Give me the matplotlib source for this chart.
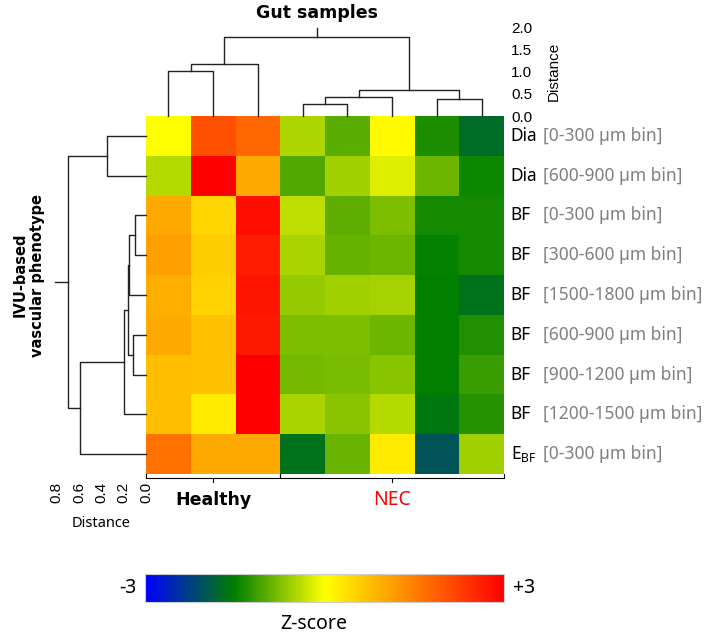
import numpy as np
import matplotlib.pyplot as plt
from matplotlib.colors import LinearSegmentedColormap
from matplotlib.cm import ScalarMappable
from matplotlib.colors import Normalize

plt.rcParams['font.family'] = ['Noto Sans', 'DejaVu Sans']

# ---- data ----
row_kind = ["Dia", "Dia", "BF", "BF", "BF", "BF", "BF", "BF", "E$_{\\mathregular{BF}}$"]
row_bin = ["[0-300 \u00b5m bin]", "[600-900 \u00b5m bin]", "[0-300 \u00b5m bin]", "[300-600 \u00b5m bin]",
           "[1500-1800 \u00b5m bin]", "[600-900 \u00b5m bin]", "[900-1200 \u00b5m bin]",
           "[1200-1500 \u00b5m bin]", "[0-300 \u00b5m bin]"]
groups = ["Healthy", "NEC"]
group_size = [3, 5]
group_color = ["black", "red"]

zscore = np.array([
    [0.00, 2.06, 1.80, -0.47, -0.97, 0.05, -1.32, -1.72],
    [-0.44, 3.00, 1.00, -1.03, -0.56, -0.20, -0.85, -1.41],
    [1.00, 0.47, 2.82, -0.38, -0.94, -0.76, -1.38, -1.36],
    [1.12, 0.59, 2.65, -0.50, -0.91, -0.85, -1.47, -1.36],
    [0.94, 0.53, 2.76, -0.62, -0.56, -0.53, -1.50, -1.65],
    [1.00, 0.71, 2.70, -0.76, -0.76, -0.85, -1.50, -1.30],
    [0.76, 0.71, 3.00, -0.82, -0.79, -0.68, -1.50, -1.15],
    [0.76, 0.24, 3.00, -0.50, -0.68, -0.44, -1.58, -1.27],
    [1.65, 1.00, 1.00, -1.65, -0.88, 0.24, -2.00, -0.56],
])

# merges: (node a, node b, height); leaves first, new nodes numbered after
col_merges = [(0, 1, 1.02), (8, 2, 1.17), (3, 4, 0.28), (10, 5, 0.44),
              (6, 7, 0.38), (11, 12, 0.59), (9, 13, 1.79)]
col_root_top = 2.0
row_merges = [(0, 1, 0.35), (2, 3, 0.10), (10, 4, 0.155), (5, 6, 0.12),
              (11, 12, 0.16), (13, 7, 0.195), (14, 8, 0.59), (9, 15, 0.70)]
row_root_top = 0.82

W, H = 709, 637
def box(x0, y0, x1, y1):
    return [x0 / W, 1 - y1 / H, (x1 - x0) / W, (y1 - y0) / H]

cmap = LinearSegmentedColormap.from_list(
    "zs", [(0, "#0000ff"), (0.25, "#008000"), (0.5, "#ffff00"), (1, "#ff0000")])

fig = plt.figure(figsize=(7.09, 6.37), dpi=100)

# ---- heatmap ----
nr, nc = zscore.shape
ax = fig.add_axes(box(146, 116, 504, 474))
ax.pcolormesh(zscore, cmap=cmap, vmin=-3, vmax=3)
ax.set_xlim(0, nc)
ax.set_ylim(nr, 0)
ax.axis("off")

tr = ax.get_yaxis_transform()
for i in range(nr):
    ax.text(1.019, i + 0.5, row_kind[i], transform=tr, fontsize=12.5, va="center", ha="left")
    ax.text(1.108, i + 0.5, row_bin[i], transform=tr, fontsize=12.5, va="center", ha="left",
            color="#808080")

# group brackets under the heatmap
px = nr / 358.0
start = 0
for g, n, c in zip(groups, group_size, group_color):
    a, b = start, start + n
    ax.plot([a, a, b, b], [nr, nr + 3.5 * px, nr + 3.5 * px, nr], color="black", lw=0.8, clip_on=False)
    m = (a + b) / 2
    ax.plot([m, m], [nr + 3.5 * px, nr + 8 * px], color="black", lw=0.8, clip_on=False)
    if g == "Healthy":
        ax.text(m, nr + 26 * px, g, ha="center", va="center", fontsize=12.5, color=c,
                family="DejaVu Sans", fontweight="bold")
    else:
        ax.text(m, nr + 26 * px, g, ha="center", va="center", fontsize=14, color=c)
    start = b


def dendro(axd, merges, n, top, horizontal):
    pos = {i: i + 0.5 for i in range(n)}
    hgt = {i: 0.0 for i in range(n)}
    k = n
    for a, b, h in merges:
        xs = [pos[a], pos[a], pos[b], pos[b]]
        ys = [hgt[a], h, h, hgt[b]]
        if horizontal:
            axd.plot(ys, xs, color="#222222", lw=1.0, clip_on=False)
        else:
            axd.plot(xs, ys, color="#222222", lw=1.0, clip_on=False)
        pos[k] = (pos[a] + pos[b]) / 2
        hgt[k] = h
        k += 1
    r = k - 1
    if horizontal:
        axd.plot([hgt[r], top], [pos[r], pos[r]], color="#222222", lw=1.0, clip_on=False)
    else:
        axd.plot([pos[r], pos[r]], [hgt[r], top], color="#222222", lw=1.0, clip_on=False)


# ---- column dendrogram ----
axc = fig.add_axes(box(146, 27.7, 504, 116))
dendro(axc, col_merges, nc, col_root_top, False)
axc.set_xlim(0, nc)
axc.set_ylim(0, 2.0)
for s in axc.spines.values():
    s.set_visible(False)
axc.set_xticks([])
axc.yaxis.tick_right()
axc.set_yticks([0, 0.5, 1.0, 1.5, 2.0])
axc.set_yticklabels(["0.0", "0.5", "1.0", "1.5", "2.0"], family="Liberation Sans", fontsize=11)
axc.tick_params(axis="y", length=0, pad=5)
axc.yaxis.set_label_position("right")
axc.set_ylabel("Distance", family="Liberation Sans", fontsize=11)
axc.yaxis.set_label_coords(1.12, 0.5)
fig.text(317 / W, 1 - 13 / H, "Gut samples", ha="center", va="center", fontsize=12.5,
         family="DejaVu Sans", fontweight="bold")

# ---- row dendrogram ----
axr = fig.add_axes(box(56.8, 116, 146, 474))
dendro(axr, row_merges, nr, row_root_top, True)
axr.set_xlim(0.8, 0)
axr.set_ylim(nr, 0)
for s in axr.spines.values():
    s.set_visible(False)
axr.set_yticks([])
axr.set_xticks([0.8, 0.6, 0.4, 0.2, 0.0])
axr.set_xticklabels(["0.8", "0.6", "0.4", "0.2", "0.0"], rotation=90, family="Liberation Sans",
                    fontsize=11)
axr.tick_params(axis="x", length=0, pad=6)
axr.set_xlabel("Distance", fontsize=10.5, labelpad=9)
fig.text(29 / W, 1 - 275 / H, "IVU-based\nvascular phenotype", rotation=90, ha="center", va="center",
         fontsize=10.5, family="DejaVu Sans", fontweight="bold", linespacing=1.2, multialignment="center")

# ---- colour key ----
axk = fig.add_axes(box(145, 574, 504, 602))
cb = fig.colorbar(ScalarMappable(norm=Normalize(-3, 3), cmap=cmap), cax=axk, orientation="horizontal")
cb.set_ticks([])
cb.outline.set_edgecolor("#cccccc")
cb.outline.set_linewidth(0.8)
axk.text(-0.025, 0.5, "-3", transform=axk.transAxes, ha="right", va="center", fontsize=14)
axk.text(1.025, 0.5, "+3", transform=axk.transAxes, ha="left", va="center", fontsize=14)
axk.text(0.47, -0.8, "Z-score", transform=axk.transAxes, ha="center", va="center", fontsize=14)

fig.savefig("out.png", dpi=100)
